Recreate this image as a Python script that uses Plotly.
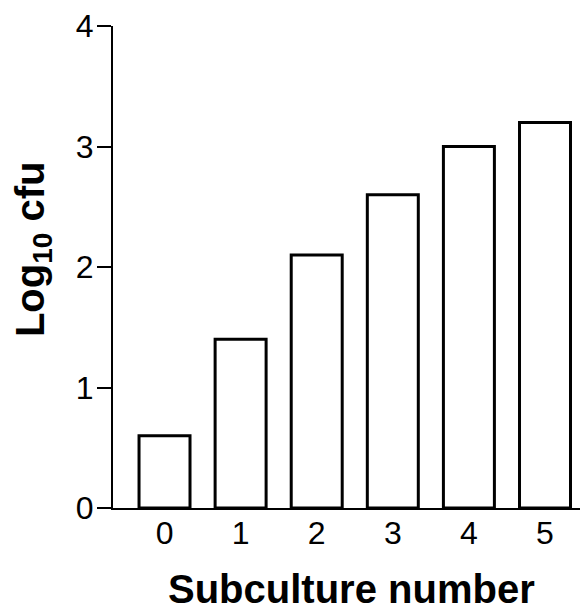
import plotly.graph_objects as go

categories = ["0", "1", "2", "3", "4", "5"]
log_cfu = [0.6, 1.4, 2.1, 2.6, 3.0, 3.2]
y_ticks = [0, 1, 2, 3, 4]

FONT = "Arial, Liberation Sans, sans-serif"
# page body has an 8px default margin; compensate so the plot sits where the reference does
OFF = 8
W, H = 588 - OFF, 612 - OFF
L, R, T, B = 113 - OFF, 0, 24 - OFF, 104
pw, ph = W - L - R, H - T - B
X0, Y1 = 113, 508  # screen pixel of plot-area left and bottom

fig = go.Figure(go.Bar(
    x=list(range(len(categories))),
    y=log_cfu,
    width=0.67,
    marker=dict(color="white", line=dict(color="black", width=3)),
))

fig.update_layout(
    width=W, height=H,
    margin=dict(l=L, r=R, t=T, b=B),
    plot_bgcolor="white", paper_bgcolor="white",
    showlegend=False,
    font=dict(family=FONT, color="black", size=32),
    xaxis=dict(
        range=[-0.677, 5.565],
        tickmode="array",
        tickvals=list(range(len(categories))),
        ticktext=categories,
        ticks="",
        showline=True, linecolor="black", linewidth=2,
        showgrid=False, zeroline=False,
        tickfont=dict(size=32),
        ticklabelstandoff=-4,
    ),
    yaxis=dict(
        range=[0, 4.001],
        tickmode="array",
        tickvals=y_ticks,
        ticks="outside", ticklen=14, tickwidth=2, tickcolor="black",
        showline=True, linecolor="black", linewidth=2,
        showgrid=False, zeroline=False,
        tickfont=dict(size=32),
        ticklabelstandoff=-3,
        ticklabeloverflow="allow",
    ),
    annotations=[
        dict(
            text="<b>Log<sub>10</sub> cfu</b>",
            xref="paper", yref="paper",
            x=(33 - X0) / pw, y=(Y1 - 248) / ph,
            xanchor="center", yanchor="middle",
            textangle=-90, showarrow=False,
            font=dict(size=40, family=FONT, color="black"),
        ),
        dict(
            text="<b>Subculture number</b>",
            xref="paper", yref="paper",
            x=(351 - X0) / pw, y=-(589 - Y1) / ph,
            xanchor="center", yanchor="middle",
            showarrow=False,
            font=dict(size=40, family=FONT, color="black"),
        ),
    ],
)

fig.write_html("out.html")
